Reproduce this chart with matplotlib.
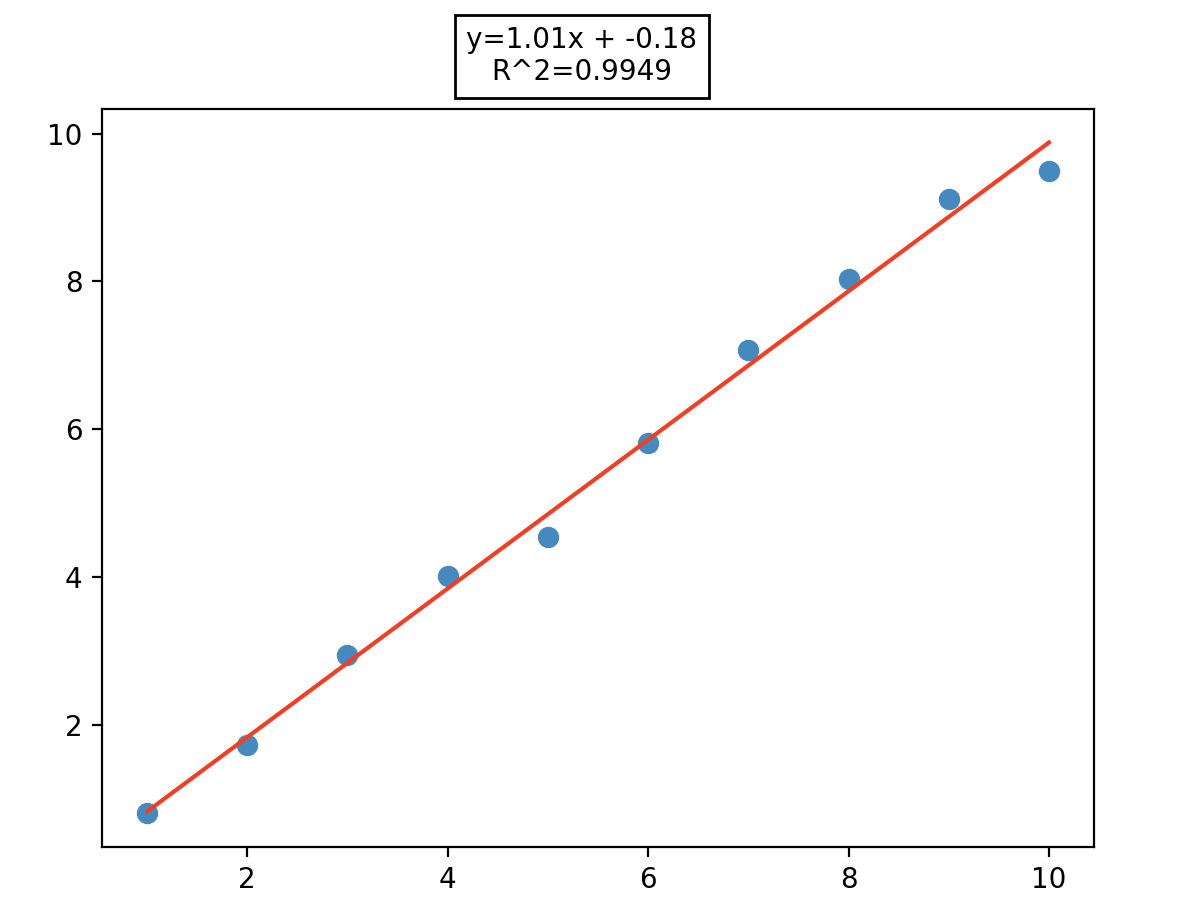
import numpy as np
import matplotlib
matplotlib.use("Agg")
import matplotlib.pyplot as plt

# observed points
x_vals = [1, 2, 3, 4, 5, 6, 7, 8, 9, 10]
y_vals = [0.80, 1.73, 2.95, 4.01, 4.54, 5.82, 7.07, 8.03, 9.12, 9.49]

# fitted line parameters (title shows them rounded)
slope = 1.006
intercept = -0.18
r_squared = 0.9949

fig = plt.figure(figsize=(5.9, 4.58), dpi=200)
ax = fig.add_axes([102 / 1180, 69 / 916, 992 / 1180, 738 / 916])

ax.scatter(x_vals, y_vals, s=45, color='#4689bf', zorder=2)

x_line = np.array([min(x_vals), max(x_vals)])
ax.plot(x_line, slope * x_line + intercept, color='#ee4026', linewidth=1.5, zorder=3)

fig.suptitle(f"y={slope:.2f}x + {intercept:.2f}\nR^2={r_squared:.4f}", fontsize=10,
             x=582 / 1180, y=1 - 26 / 916, va='top',
             bbox=dict(facecolor='white', edgecolor='black', boxstyle='square', pad=0.4))

fig.savefig('out.png', dpi=200)
